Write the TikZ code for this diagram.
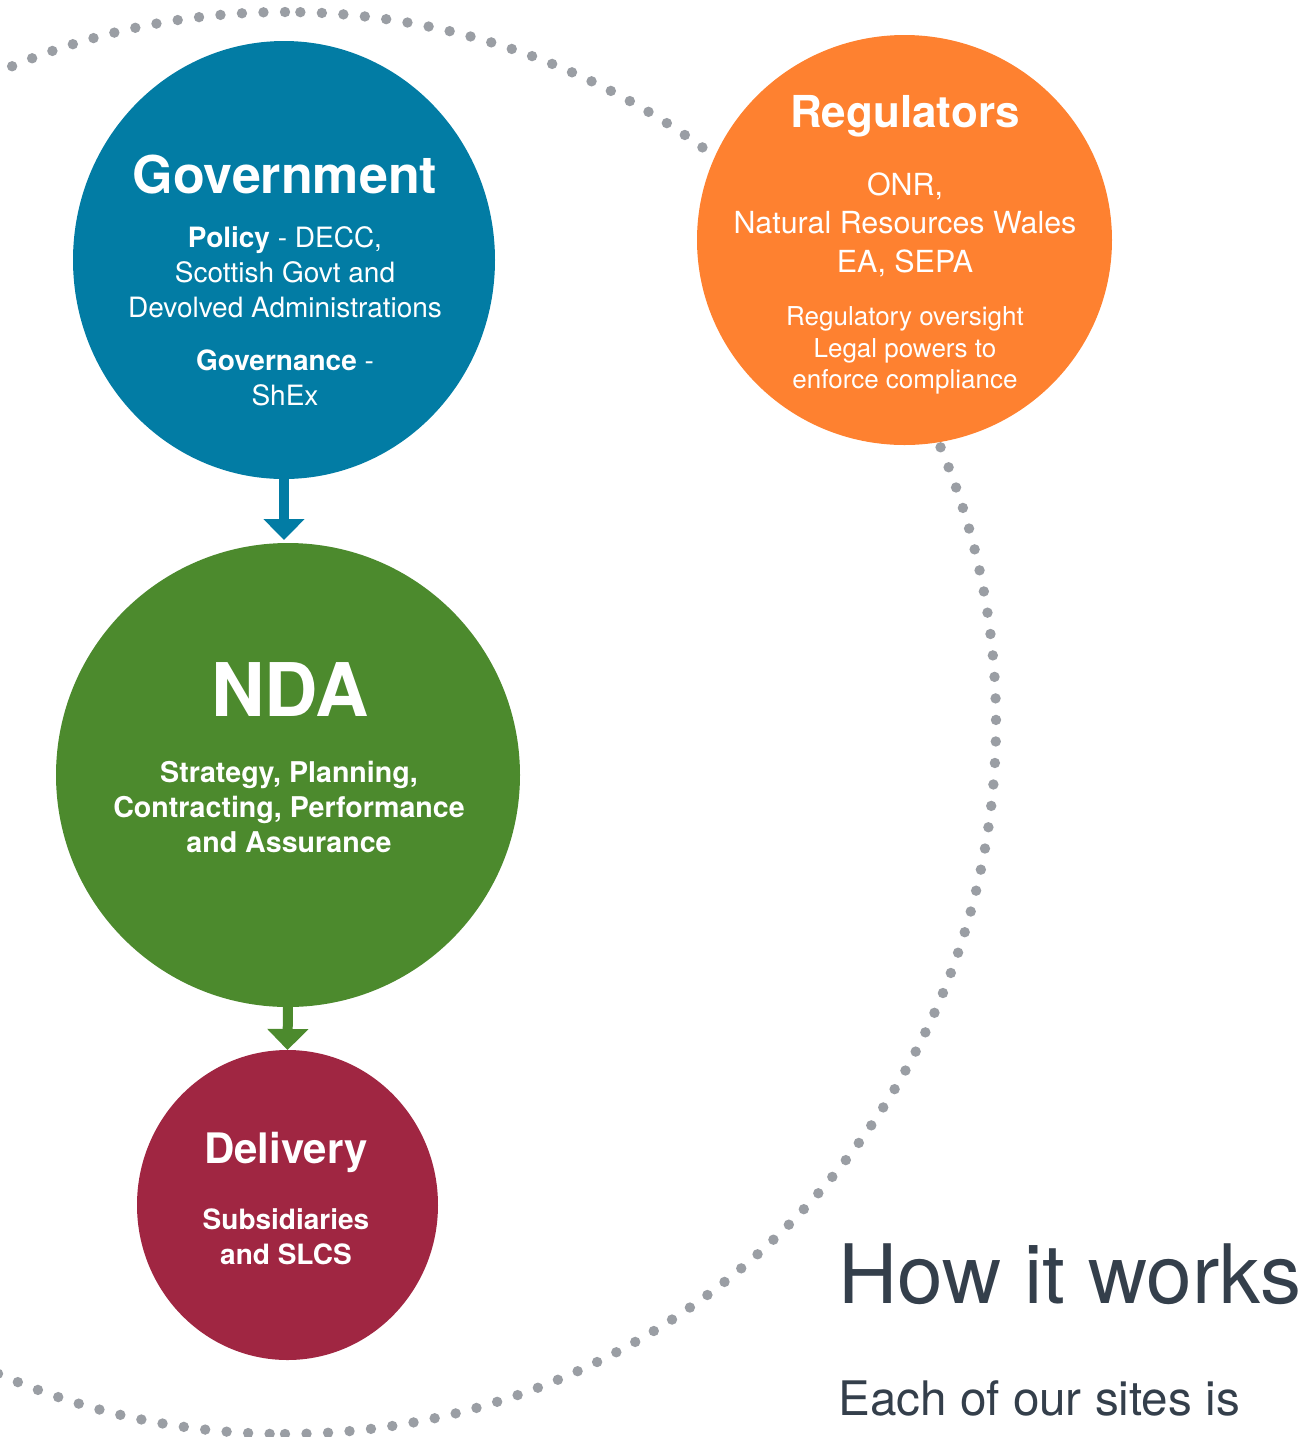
\documentclass[tikz,border=0pt]{standalone}
\usepackage{fontspec}
\setmainfont{TeX Gyre Heros}
\usetikzlibrary{shapes.geometric,arrows.meta}
\definecolor{govblue}{HTML}{027CA4}
\definecolor{ndagreen}{HTML}{4C8A2D}
\definecolor{regorange}{HTML}{FE8130}
\definecolor{delred}{HTML}{A02642}
\definecolor{dotgray}{HTML}{9A9EA4}
\definecolor{slate}{HTML}{343F4B}
\newcommand{\fs}[1]{\fontsize{#1}{#1}\selectfont}
\tikzset{
  blob/.style={draw=none, inner sep=0pt, outer sep=0pt},
  txt/.style={text=white, anchor=base, inner sep=0pt},
  flow/.style={line width=5pt, -{Triangle[length=10.5pt,width=20pt]}},
  dotring/.style={dotgray, line width=5.2pt, line cap=round, dash pattern=on 0pt off 10.77pt},
}
\begin{document}
\begin{tikzpicture}[x=0.5pt,y=-0.5pt]
\useasboundingbox (0,0) rectangle (1307,1437);
\clip (0,0) rectangle (1307,1437);
% dotted ring, two halves
\coordinate (ringtop) at (285,12);
\coordinate (ringbot) at (285,1434);
\draw[dotring] (ringtop) arc[start angle=90, end angle=270, radius=355.5pt];
\draw[dotring] (ringbot) arc[start angle=-90, end angle=90, radius=355.5pt];
% circles
\node[blob, ellipse, fill=govblue, minimum width=211pt, minimum height=219pt] (gov) at (284,260) {};
\node[blob, circle, fill=ndagreen, minimum size=232pt] (nda) at (288,775) {};
\node[blob, ellipse, fill=delred, minimum width=150.5pt, minimum height=155pt] (del) at (287.5,1205) {};
\node[blob, ellipse, fill=regorange, minimum width=207.5pt, minimum height=205pt] (reg) at (904.5,240) {};
% arrows
\draw[flow, govblue, shorten >=1.5pt] ([yshift=2pt]gov.south) -- (gov.south |- nda.north);
\draw[flow, ndagreen] ([yshift=2pt]nda.south) -- (del.north);
% Government text
\node[txt, font=\fs{26}\bfseries] (govt) at (285,193) {Government};
\node[txt, font=\fs{14}] (gov1) at (285,247) {\textbf{Policy} - DECC,};
\node[txt, font=\fs{14}] (gov2) at (285,282) {Scottish Govt and};
\node[txt, font=\fs{14}] (gov3) at (285,317) {Devolved Administrations};
\node[txt, font=\fs{14}] (gov4) at (285,370) {\textbf{Governance} -};
\node[txt, font=\fs{14}] (gov5) at (285,405) {ShEx};
% Regulators text
\node[txt, font=\fs{22}\bfseries] (regt) at (905,127) {Regulators};
\node[txt, font=\fs{15.2}] (reg1) at (905,195) {ONR,};
\node[txt, font=\fs{15.2}] (reg2) at (905,233) {Natural Resources Wales};
\node[txt, font=\fs{15.2}] (reg3) at (905,272) {EA, SEPA};
\node[txt, font=\fs{13}] (reg4) at (905,325) {Regulatory oversight};
\node[txt, font=\fs{13}] (reg5) at (905,357) {Legal powers to};
\node[txt, font=\fs{13}] (reg6) at (905,388) {enforce compliance};
% NDA text
\node[txt, font=\fs{37}\bfseries] (ndat) at (290,716) {NDA};
\node[txt, font=\fs{14.3}\bfseries] (nda1) at (289,782) {Strategy, Planning,};
\node[txt, font=\fs{14.3}\bfseries] (nda2) at (289,817) {Contracting, Performance};
\node[txt, font=\fs{14.3}\bfseries] (nda3) at (289,852) {and Assurance};
% Delivery text
\node[txt, font=\fs{21}\bfseries] (delt) at (286,1163) {Delivery};
\node[txt, font=\fs{14}\bfseries] (del1) at (286,1229) {Subsidiaries};
\node[txt, font=\fs{14}\bfseries] (del2) at (286,1264) {and SLCS};
% side text
\node[anchor=base west, inner sep=0pt, text=slate, font=\fs{41}] (how) at (838,1303) {How it works};
\node[anchor=base west, inner sep=0pt, text=slate, font=\fs{23.8}] (each) at (838,1415) {Each of our sites is};
\end{tikzpicture}
\end{document}
